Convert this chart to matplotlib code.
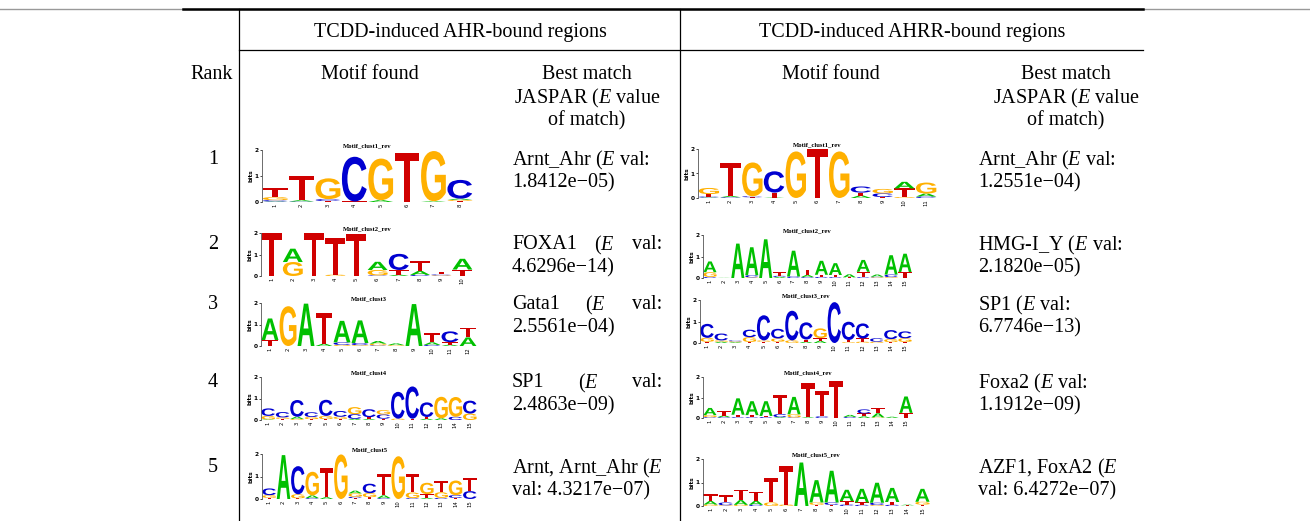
import matplotlib
matplotlib.use("Agg")
import matplotlib.pyplot as plt
from matplotlib.textpath import TextPath
from matplotlib.patches import PathPatch
from matplotlib.font_manager import FontProperties
from matplotlib.transforms import Affine2D
from matplotlib.path import Path

plt.rcParams['font.family'] = 'Liberation Serif'
plt.rcParams['mathtext.fontset'] = 'custom'
plt.rcParams['mathtext.rm'] = 'Liberation Serif'
plt.rcParams['mathtext.it'] = 'Liberation Serif:italic'

W, H = 1310, 521

# ---- table text ----
groups = ['TCDD-induced AHR-bound regions', 'TCDD-induced AHRR-bound regions']
rank_header = 'Rank'
motif_header = 'Motif found'
match_header = ['Best match', 'JASPAR ($E$ value', 'of match)']
ranks = ['1', '2', '3', '4', '5']

# (first line words, second line, justified?)
ahr_match = [
    (['Arnt_Ahr ($E$ val:'], '1.8412e\u221205)', False),
    (['FOXA1', '($E$', 'val:'], '4.6296e\u221214)', True),
    (['Gata1', '($E$', 'val:'], '2.5561e\u221204)', True),
    (['SP1', '($E$', 'val:'], '2.4863e\u221209)', True),
    (['Arnt, Arnt_Ahr ($E$'], 'val: 4.3217e\u221207)', False),
]
ahrr_match = [
    (['Arnt_Ahr ($E$ val:'], '1.2551e\u221204)', False),
    (['HMG-I_Y ($E$ val:'], '2.1820e\u221205)', False),
    (['SP1 ($E$ val:'], '6.7746e\u221213)', False),
    (['Foxa2 ($E$ val:'], '1.1912e\u221209)', False),
    (['AZF1, FoxA2 ($E$'], 'val: 6.4272e\u221207)', False),
]

# ---- motif logos: per position, stack of (base, bits) bottom -> top ----
ahr_titles = ['Motif_clust1_rev', 'Motif_clust2_rev', 'Motif_clust3', 'Motif_clust4', 'Motif_clust5']
ahrr_titles = ['Motif_clust1_rev', 'Motif_clust2_rev', 'Motif_clust3_rev', 'Motif_clust4_rev', 'Motif_clust5_rev']

ahr_logo1 = [
    [('A', .02), ('C', .05), ('G', .12), ('T', .33)],
    [('C', .02), ('A', .05), ('T', .93)],
    [('T', .04), ('C', .07), ('G', .80)],
    [('T', .02), ('C', 1.72)],
    [('A', .07), ('G', 1.60)],
    [('T', 1.90)],
    [('A', .03), ('G', 1.93)],
    [('T', .04), ('G', .04), ('A', .05), ('C', .72)],
]
ahr_logo2 = [
    [('T', 1.98)],
    [('G', .65), ('A', .62)],
    [('T', 1.98)],
    [('G', .06), ('T', 1.72)],
    [('T', 1.95)],
    [('C', .03), ('G', .25), ('A', .38)],
    [('A', .06), ('T', .22), ('C', .75)],
    [('C', .05), ('A', .18), ('T', .45)],
    [('G', .03), ('C', .04), ('T', .12)],
    [('T', .30), ('A', .50)],
]
ahr_logo3 = [
    [('T', .28), ('A', 1.00)],
    [('G', 1.85)],
    [('A', 1.97)],
    [('A', .10), ('T', 1.42)],
    [('G', .05), ('C', .12), ('A', 1.00)],
    [('G', .04), ('C', .10), ('A', 1.05)],
    [('C', .03), ('G', .08), ('A', .12)],
    [('G', .04), ('A', .08)],
    [('A', 1.95)],
    [('C', .05), ('A', .12), ('T', .42)],
    [('A', .06), ('T', .12), ('C', .50)],
    [('A', .40), ('T', .45)],
]
ahr_logo4 = [
    [('A', .03), ('G', .16), ('C', .35)],
    [('T', .05), ('G', .07), ('C', .25)],
    [('G', .05), ('A', .10), ('C', .78)],
    [('T', .04), ('G', .10), ('C', .22)],
    [('T', .04), ('G', .15), ('C', .75)],
    [('T', .05), ('G', .10), ('C', .27)],
    [('A', .05), ('C', .22), ('G', .33)],
    [('A', .05), ('T', .08), ('C', .37)],
    [('T', .06), ('C', .20), ('G', .20)],
    [('G', .06), ('C', 1.25)],
    [('T', .06), ('C', 1.50)],
    [('A', .06), ('T', .08), ('C', .68)],
    [('A', .08), ('G', 1.00)],
    [('C', .15), ('G', .92)],
    [('G', .30), ('C', .60)],
]
ahr_logo5 = [
    [('T', .05), ('G', .12), ('C', .30)],
    [('A', 1.95)],
    [('T', .03), ('G', .18), ('C', 1.25)],
    [('C', .04), ('A', .12), ('G', 1.05)],
    [('A', .08), ('T', 1.30)],
    [('G', 1.98)],
    [('T', .04), ('C', .06), ('G', .15), ('A', .12)],
    [('T', .08), ('G', .18), ('C', .42)],
    [('C', .04), ('A', .12), ('T', .95)],
    [('G', 1.90)],
    [('C', .04), ('G', .25), ('T', .80)],
    [('A', .05), ('T', .17), ('G', .50)],
    [('C', .05), ('G', .25), ('T', .50)],
    [('T', .05), ('C', .12), ('G', .65)],
    [('C', .35), ('T', .60)],
]

ahrr_logo1 = [
    [('A', .02), ('C', .04), ('T', .10), ('G', .25)],
    [('C', .03), ('A', .05), ('T', 1.35)],
    [('T', .03), ('C', .04), ('G', 1.38)],
    [('A', .02), ('T', .20), ('C', .87)],
    [('G', 1.90)],
    [('T', 1.98)],
    [('G', 1.90)],
    [('A', .10), ('T', .12), ('C', .25)],
    [('T', .04), ('C', .15), ('G', .18)],
    [('G', .04), ('T', .35), ('A', .27)],
    [('C', .06), ('A', .12), ('G', .45)],
]
ahrr_logo2 = [
    [('C', .05), ('G', .22), ('A', .50)],
    [('A', .01)],
    [('A', 1.60)],
    [('G', .03), ('C', .10), ('A', 1.30)],
    [('A', 1.80)],
    [('A', .05), ('C', .05), ('T', .18)],
    [('C', .07), ('A', 1.20)],
    [('C', .04), ('A', .10), ('T', .25)],
    [('C', .05), ('T', .10), ('A', .65)],
    [('C', .04), ('T', .10), ('A', .55)],
    [('T', .03), ('A', .14)],
    [('C', .04), ('T', .25), ('A', .55)],
    [('G', .03), ('C', .03), ('A', .10)],
    [('G', .04), ('C', .12), ('A', .90)],
    [('T', .28), ('A', .85)],
]
ahrr_logo3 = [
    [('T', .06), ('G', .18), ('C', .65)],
    [('A', .06), ('G', .06), ('C', .32)],
    [('A', .04), ('G', .04), ('C', .04)],
    [('T', .05), ('G', .22), ('C', .35)],
    [('T', .06), ('G', .06), ('C', 1.17)],
    [('T', .06), ('G', .15), ('C', .45)],
    [('G', .12), ('C', 1.38)],
    [('A', .06), ('T', .10), ('C', .80)],
    [('A', .10), ('T', .13), ('G', .45)],
    [('C', 1.90)],
    [('G', .04), ('T', .10), ('C', .85)],
    [('G', .06), ('T', .15), ('C', .70)],
    [('G', .06), ('C', .16)],
    [('T', .04), ('G', .14), ('C', .42)],
    [('T', .05), ('G', .17), ('C', .32)],
]
ahrr_logo4 = [
    [('C', .04), ('G', .10), ('A', .35)],
    [('C', .04), ('A', .08), ('T', .20)],
    [('C', .04), ('T', .12), ('A', .80)],
    [('C', .04), ('T', .10), ('A', .68)],
    [('C', .05), ('T', .05), ('A', .72)],
    [('A', .04), ('C', .15), ('T', .95)],
    [('C', .03), ('G', .15), ('A', .85)],
    [('A', .04), ('T', 1.65)],
    [('C', .08), ('T', 1.25)],
    [('T', 1.80)],
    [('C', .05), ('A', .10)],
    [('A', .08), ('T', .14), ('C', .20)],
    [('G', .03), ('A', .20), ('T', .27)],
    [('A', .06)],
    [('T', .25), ('A', .80)],
]
ahrr_logo5 = [
    [('G', .06), ('A', .15), ('T', .28)],
    [('G', .03), ('C', .12), ('T', .30)],
    [('G', .05), ('A', .20), ('T', .45)],
    [('C', .05), ('A', .17), ('T', .38)],
    [('G', .15), ('T', 1.05)],
    [('G', .06), ('T', 1.65)],
    [('A', 1.85)],
    [('T', .05), ('G', .10), ('A', .95)],
    [('T', .05), ('C', .10), ('A', 1.35)],
    [('C', .06), ('T', .15), ('A', .48)],
    [('C', .05), ('T', .10), ('A', .58)],
    [('G', .04), ('C', .10), ('A', .85)],
    [('C', .05), ('T', .12), ('A', .60)],
    [('T', .03), ('A', .03)],
    [('T', .06), ('G', .12), ('A', .55)],
]

ahr_logos = [ahr_logo1, ahr_logo2, ahr_logo3, ahr_logo4, ahr_logo5]
ahrr_logos = [ahrr_logo1, ahrr_logo2, ahrr_logo3, ahrr_logo4, ahrr_logo5]

base_colors = {'A': '#00c000', 'C': '#0000d0', 'G': '#ffb000', 'T': '#d00000'}

# pixel boxes (x0, x1, y_baseline, y_2bits) of each logo plot
ahr_boxes = [(262, 473, 202, 150), (261, 473, 276, 233), (261, 477, 346, 303),
             (261, 477, 420, 377), (262, 477, 499, 454)]
ahrr_boxes = [(698, 937, 198, 149), (703, 912, 278, 235), (700, 912, 343, 300),
              (703, 913, 418, 377), (703, 930, 506, 459)]

row_y = [157, 242, 302, 380, 465]
line_h = 23

# normalised glyph outlines for the logo letters
letter_fp = FontProperties(family='Liberation Sans', weight='bold')
glyphs = {}
for ch in 'ACGT':
    p = TextPath((0, 0), ch, size=1, prop=letter_fp)
    e = p.get_extents()
    v = (p.vertices - [e.x0, e.y0]) / [e.width, e.height]
    glyphs[ch] = Path(v, p.codes)


def draw_logo(ax, columns, title):
    n = len(columns)
    for i, stack in enumerate(columns):
        x = i + 1
        y = 0.0
        for ch, h in stack:
            tr = Affine2D().scale(0.94, h).translate(x - 0.47, y) + ax.transData
            ax.add_patch(PathPatch(glyphs[ch], transform=tr, fc=base_colors[ch],
                                   ec='none', clip_on=False))
            y += h
    ax.set_xlim(0.5, n + 0.5)
    ax.set_ylim(0, 2)
    for s in ['top', 'right', 'bottom']:
        ax.spines[s].set_visible(False)
    ax.spines['left'].set_linewidth(0.6)
    ax.spines['left'].set_color('#555555')
    ax.set_yticks([0, 1, 2])
    ax.set_yticklabels(['0', '1', '2'], fontsize=4.2, family='DejaVu Sans', fontweight='bold')
    ax.tick_params(axis='y', length=1.5, width=0.5, pad=1)
    ax.set_xticks(range(1, n + 1))
    ax.set_xticklabels([str(k) for k in range(1, n + 1)], rotation=90, fontsize=3.8,
                       family='DejaVu Sans')
    ax.tick_params(axis='x', length=0, pad=1)
    ax.set_ylabel('bits', fontsize=4.2, family='DejaVu Sans', fontweight='bold', labelpad=1)
    ax.set_title(title, fontsize=4.8, fontweight='bold', pad=2)
    ax.patch.set_alpha(0)


fig = plt.figure(figsize=(W / 100, H / 100), dpi=100)
tab = fig.add_axes([0, 0, 1, 1])
tab.set_xlim(0, W)
tab.set_ylim(H, 0)
tab.axis('off')

# rules
tab.plot([0, W], [9, 9], color='#999999', lw=1)
tab.plot([183, 1143], [9, 9], color='black', lw=1.8)
tab.plot([239, 1143], [50, 50], color='black', lw=0.9)
tab.plot([239, 239], [9, H], color='black', lw=0.9)
tab.plot([680, 680], [9, H], color='black', lw=0.9)

fs = 14.5
tab.text(460, 30, groups[0], ha='center', va='center_baseline', fontsize=fs)
tab.text(912, 30, groups[1], ha='center', va='center_baseline', fontsize=fs)
tab.text(212, 72, rank_header, ha='center', va='center_baseline', fontsize=fs)
for cx_m, cx_b in [(370, 587), (831, 1066)]:
    tab.text(cx_m, 72, motif_header, ha='center', va='center_baseline', fontsize=fs)
    for k, line in enumerate(match_header):
        tab.text(cx_b, 72 + k * line_h, line, ha='center', va='center_baseline', fontsize=fs)

for r, y in zip(ranks, row_y):
    tab.text(213, y, r, ha='center', va='center_baseline', fontsize=fs)

fig.canvas.draw()
renderer = fig.canvas.get_renderer()
to_px = tab.transData.inverted()


def text_width(t):
    bb = t.get_window_extent(renderer)
    p0 = to_px.transform((bb.x0, bb.y0))
    p1 = to_px.transform((bb.x1, bb.y0))
    return p1[0] - p0[0]


def put_match(x0, x1, entries):
    for (words, second, justify), y in zip(entries, row_y):
        if justify:
            a = tab.text(x0, y, words[0], ha='left', va='center_baseline', fontsize=fs)
            c = tab.text(x1, y, words[2], ha='right', va='center_baseline', fontsize=fs)
            b = tab.text(0, y, words[1], ha='left', va='center_baseline', fontsize=fs)
            wa, wb, wc = text_width(a), text_width(b), text_width(c)
            gap = (x1 - x0 - wa - wb - wc) / 2
            b.set_x(x0 + wa + gap)
        else:
            tab.text(x0, y, words[0], ha='left', va='center_baseline', fontsize=fs)
        tab.text(x0, y + line_h, second, ha='left', va='center_baseline', fontsize=fs)


put_match(512, 662, ahr_match)
put_match(978, 1140, ahrr_match)

for logos, titles, boxes in [(ahr_logos, ahr_titles, ahr_boxes),
                             (ahrr_logos, ahrr_titles, ahrr_boxes)]:
    for cols, title, (x0, x1, yb, yt) in zip(logos, titles, boxes):
        ax = fig.add_axes([x0 / W, 1 - yb / H, (x1 - x0) / W, (yb - yt) / H])
        draw_logo(ax, cols, title)

fig.savefig('out.png', dpi=100)
